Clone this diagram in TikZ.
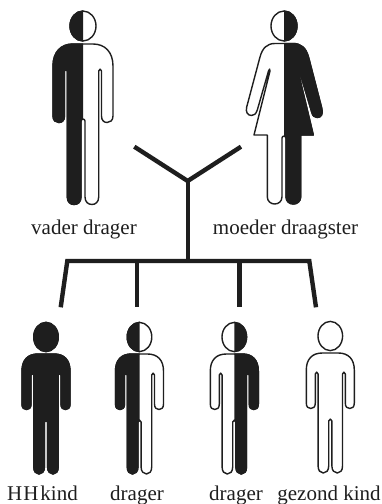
\documentclass[tikz,border=0pt]{standalone}
\usepackage{fontspec}
\setmainfont{Liberation Serif}
\definecolor{ink}{HTML}{1E1E1E}
\tikzset{
  outline/.style={draw=ink,line width=1.4pt,fill=white,line join=round},
  solid part/.style={draw=ink,line width=1.4pt,fill=ink,line join=round},
  bar/.style={draw=ink,line width=4.4pt},
  cap text/.style={font=\fontsize{21}{24}\selectfont,text=ink,anchor=base,inner sep=0pt}
}
% adult male, origin on the body axis; y as in the picture
\def\manbody{(0,44) -- (10,44) .. controls (22,44) and (30,52) .. (30,66) -- (30,116)
 .. controls (30,120.5) and (27,122.5) .. (24.2,122.5) .. controls (21,122.5) and (18.5,120.5) .. (18.5,116)
 -- (18.5,71) .. controls (18.5,68.5) and (15.7,68.5) .. (15.7,71) -- (15.7,197)
 .. controls (15.7,202) and (12.5,204.5) .. (9,204.5) .. controls (5.2,204.5) and (2,202) .. (2,197)
 -- (2,121) .. controls (2,118.5) and (-2,118.5) .. (-2,121) -- (-2,197)
 .. controls (-2,202) and (-5.2,204.5) .. (-9,204.5) .. controls (-12.5,204.5) and (-15.7,202) .. (-15.7,197)
 -- (-15.7,71) .. controls (-15.7,68.5) and (-18.5,68.5) .. (-18.5,71) -- (-18.5,116)
 .. controls (-18.5,120.5) and (-21,122.5) .. (-24.2,122.5) .. controls (-27,122.5) and (-30,120.5) .. (-30,116)
 -- (-30,66) .. controls (-30,52) and (-22,44) .. (-10,44) -- cycle}
\def\womanbody{(0,43.5) -- (9,43.5) .. controls (17,43.5) and (22,48) .. (24.5,57) -- (37.7,108)
 .. controls (39.5,114) and (37,117.5) .. (33.3,117.5) .. controls (30.5,117.5) and (28.7,116) .. (27.7,112)
 -- (15.5,71) .. controls (15,68.5) and (13.6,68.5) .. (14,71) -- (29.3,135) -- (16.7,135) -- (16.7,196.7)
 .. controls (16.7,201.5) and (13,204) .. (9.3,204) .. controls (5.5,204) and (2,201.5) .. (2,196.7)
 -- (2,138) .. controls (2,135.5) and (-2,135.5) .. (-2,138) -- (-2,196.7)
 .. controls (-2,201.5) and (-5.5,204) .. (-9.3,204) .. controls (-13,204) and (-16.7,201.5) .. (-16.7,196.7)
 -- (-16.7,135) -- (-30,135) -- (-14,71) .. controls (-13.6,68.5) and (-15,68.5) .. (-15.5,71)
 -- (-26.7,110) .. controls (-28,114) and (-30,115.5) .. (-32.5,115.5) .. controls (-36.5,115.5) and (-38.5,112) .. (-37.3,107)
 -- (-24,57) .. controls (-21.5,48) and (-17,43.5) .. (-9,43.5) -- cycle}
% child, origin on the axis at shoulder height
\def\childbody{(0,0) -- (8,0) .. controls (18,0) and (24,6) .. (24,17) -- (24,50)
 .. controls (24,54) and (22,55.5) .. (19.5,55.5) .. controls (17,55.5) and (15,54) .. (15,50)
 -- (15,21) .. controls (15,18.5) and (12.2,18.5) .. (12.2,21) -- (12.2,113)
 .. controls (12.2,117.5) and (10,120) .. (7,120) .. controls (4,120) and (1.6,117.5) .. (1.6,113)
 -- (1.6,68) .. controls (1.6,65.5) and (-1.6,65.5) .. (-1.6,68) -- (-1.6,113)
 .. controls (-1.6,117.5) and (-4,120) .. (-7,120) .. controls (-10,120) and (-12.2,117.5) .. (-12.2,113)
 -- (-12.2,21) .. controls (-12.2,18.5) and (-15,18.5) .. (-15,21) -- (-15,50)
 .. controls (-15,54) and (-17,55.5) .. (-19.5,55.5) .. controls (-22,55.5) and (-24,54) .. (-24,50)
 -- (-24,17) .. controls (-24,6) and (-18,0) .. (-8,0) -- cycle}
\def\adulthead{(0,26) ellipse [x radius=13,y radius=15]}
\def\childhead{(0,-17) ellipse [x radius=12.3,y radius=14.6]}
% #1 centre, #2 body, #3 head, #4 #5 x range of the solid region
\newcommand\personfig[5]{%
  \begin{scope}[shift={#1}]
    \draw[outline] #2;
    \draw[outline] #3;
    \begin{scope}
      \clip (#4,-60) rectangle (#5,230);
      \draw[solid part] #2;
      \draw[solid part] #3;
    \end{scope}
  \end{scope}}
\newcommand\emptyfig[3]{%
  \begin{scope}[shift={#1}]
    \draw[outline] #2;
    \draw[outline] #3;
  \end{scope}}
\begin{document}
\begin{tikzpicture}[x=1pt,y=-1pt]
\useasboundingbox[fill=white] (0,0) rectangle (382,504);
\personfig{(83,0)}{\manbody}{\adulthead}{-45}{0}
\personfig{(284,0)}{\womanbody}{\adulthead}{0}{45}
\personfig{(46,354)}{\childbody}{\childhead}{-45}{45}
\personfig{(139.5,354)}{\childbody}{\childhead}{-45}{0}
\personfig{(234.3,354)}{\childbody}{\childhead}{0}{45}
\emptyfig{(330.3,353)}{\childbody}{\childhead}
\coordinate (yl) at (134.3,146.7);
\coordinate (yr) at (241,146.7);
\coordinate (yj) at (187.7,181);
\coordinate (st) at (187.7,261);
\coordinate (hl) at (67.3,261);
\coordinate (hr) at (309.3,261);
\coordinate (c1) at (60.7,307.3);
\coordinate (c2a) at (137,261);
\coordinate (c2) at (137,307.3);
\coordinate (c3a) at (239.3,261);
\coordinate (c3) at (239.3,307.3);
\coordinate (c4) at (316,307.3);
\draw[bar] (yl) -- (yj) -- (yr);
\draw[bar] (yj) -- (st);
\draw[bar,line join=miter] (c1) -- (hl) -- (hr) -- (c4);
\draw[bar] (c2a) -- (c2);
\draw[bar] (c3a) -- (c3);
\node[cap text] (t1) at (84,234) {vader drager};
\node[cap text] (t2) at (285.5,234) {moeder draagster};
\node[cap text] (t3) at (42.5,500) {H\kern1pt H\kern2pt kind};
\node[cap text] (t4) at (137,500) {drager};
\node[cap text] (t5) at (236,500) {drager};
\node[cap text] (t6) at (329,500) {gezond kind};
\end{tikzpicture}
\end{document}
